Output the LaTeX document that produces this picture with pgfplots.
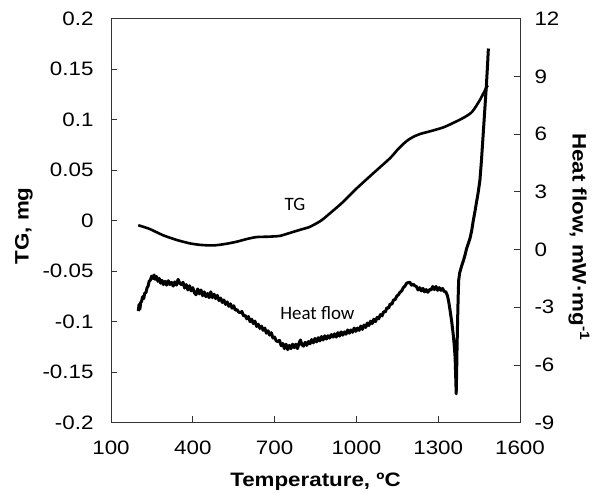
\documentclass[border=0pt]{standalone}
\usepackage{fontspec}
\setmainfont{Liberation Sans}[FakeStretch=1.15]
\newfontfamily\calib{Carlito}
\usepackage{pgfplots}
\pgfplotsset{compat=1.18}

\pgfplotstableread{
x y
200 -0.0045
240 -0.008
292 -0.0145
340 -0.019
390 -0.0225
430 -0.024
475 -0.0245
520 -0.023
561 -0.0208
600 -0.018
634 -0.0162
680 -0.0158
720 -0.0150
763 -0.0115
800 -0.0085
830 -0.006
870 0.000
903 0.0073
952 0.0188
1001 0.032
1062 0.047
1123 0.0618
1150 0.0700
1172 0.0760
1190 0.0800
1210 0.0832
1235 0.0860
1270 0.0885
1320 0.0925
1368 0.0985
1400 0.1030
1425 0.1080
1453 0.1195
1475 0.131
1482 0.134
}\tgdata

\pgfplotstableread{
x y
200 -3.2
203 -2.85
206 -3.1
209 -2.75
212 -2.7
216 -2.45
220 -2.55
224 -2.25
228 -2.25
232 -2.0
236 -1.9
240 -1.65
244 -1.6
249 -1.38
254 -1.5
258 -1.32
262 -1.55
267 -1.4
272 -1.65
277 -1.5
282 -1.75
287 -1.6
292 -1.82
298 -1.65
304 -1.85
310 -1.62
316 -1.82
322 -1.7
328 -1.9
334 -1.68
340 -1.85
346 -1.55
352 -1.75
358 -1.82
364 -1.7
370 -2.0
376 -1.82
382 -2.1
388 -1.88
394 -2.15
400 -1.98
406 -2.25
412 -2.35
418 -2.05
424 -2.3
430 -2.1
436 -2.4
442 -2.2
448 -2.45
454 -2.28
460 -2.5
466 -2.2
472 -2.5
478 -2.32
484 -2.55
490 -2.38
496 -2.65
502 -2.52
508 -2.75
514 -2.62
520 -2.85
526 -2.72
532 -2.95
538 -2.82
544 -3.05
550 -2.92
556 -3.15
562 -3.12
568 -3.25
574 -3.28
580 -3.22
586 -3.45
592 -3.42
598 -3.6
604 -3.48
610 -3.75
616 -3.62
622 -3.85
628 -3.72
634 -4.0
640 -3.88
646 -4.1
652 -3.98
658 -4.2
664 -4.08
670 -4.35
676 -4.22
682 -4.45
688 -4.32
694 -4.6
700 -4.55
706 -4.75
712 -4.78
718 -4.72
724 -5.0
730 -4.88
736 -5.15
742 -4.92
748 -5.2
754 -4.98
760 -5.15
766 -4.92
772 -5.1
778 -4.92
784 -5.15
790 -4.85
795 -4.7
800 -4.95
806 -5.02
812 -4.82
818 -4.98
824 -4.78
830 -4.9
836 -4.68
842 -4.85
848 -4.62
854 -4.8
860 -4.58
866 -4.75
872 -4.52
878 -4.7
884 -4.48
890 -4.65
896 -4.48
902 -4.6
908 -4.42
914 -4.55
920 -4.38
926 -4.55
932 -4.32
938 -4.5
944 -4.28
950 -4.45
956 -4.28
962 -4.4
968 -4.18
974 -4.35
980 -4.18
986 -4.3
992 -4.08
998 -4.25
1004 -4.08
1010 -4.2
1016 -3.98
1022 -4.15
1028 -3.92
1034 -4.05
1040 -3.82
1046 -3.95
1052 -3.72
1058 -3.85
1064 -3.62
1070 -3.75
1076 -3.52
1082 -3.6
1088 -3.38
1094 -3.45
1100 -3.22
1106 -3.25
1112 -3.02
1118 -3.05
1124 -2.82
1130 -2.85
1136 -2.62
1142 -2.6
1148 -2.42
1154 -2.35
1160 -2.22
1166 -2.15
1172 -1.98
1178 -1.9
1184 -1.75
1190 -1.72
1196 -1.7
1202 -1.85
1208 -1.8
1214 -1.88
1220 -1.92
1226 -2.1
1232 -1.98
1238 -2.15
1244 -2.02
1250 -2.2
1256 -2.08
1262 -2.22
1268 -2.08
1274 -2.1
1280 -1.92
1286 -2.08
1292 -1.92
1298 -2.12
1304 -1.98
1310 -2.12
1316 -2.02
1322 -2.18
1328 -2.2
1334 -2.4
1339 -2.75
1344 -3.2
1350 -3.8
1355 -4.4
1359 -5.0
1362 -5.6
1364 -6.5
1366 -7.5
1367.5 -6.5
1369 -5.2
1371 -3.8
1373 -2.6
1375 -1.6
1379 -1.2
1385 -0.9
1393 -0.55
1399 -0.25
1404 0.05
1410 0.3
1417 0.6
1423 1.0
1428 1.45
1435 2.0
1441 2.5
1447 3.0
1453 3.6
1459 4.7
1465 6.0
1471 7.3
1477 8.6
1481 9.6
1484 10.45
}\hfdata

\begin{document}
\begin{tikzpicture}
\pgfplotsset{
  common/.style={
    at={(0,0)}, anchor=south west,
    scale only axis, width=409bp, height=404bp,
    xmin=100, xmax=1600,
    tick align=inside,
    major tick length=6.5bp,
    axis line style={black!80, line width=0.9bp},
    every tick/.style={black!80, line width=0.9bp},
    ticklabel style={font=\fontsize{19.5}{22}\selectfont},
    label style={font=\bfseries\fontsize{19.5}{22}\selectfont},
  }
}
\begin{axis}[
  common,
  ymin=-0.2, ymax=0.2,
  xtick={100,400,700,1000,1300,1600},
  xticklabels={100,400,700,1000,1300,1600},
  ytick={-0.2,-0.15,-0.1,-0.05,0,0.05,0.1,0.15,0.2},
  yticklabels={-0.2,-0.15,-0.1,-0.05,0,0.05,0.1,0.15,0.2},
  xtick pos=bottom, ytick pos=left,
  xticklabel style={yshift=-15bp},
  yticklabel style={xshift=-14bp},
  xlabel={Temperature, ºC},
  ylabel={TG, mg},
  xlabel style={at={(axis description cs:0.5,-0.147)}, anchor=center},
  ylabel style={at={(axis description cs:-0.213,0.487)}, anchor=center},
]
\addplot[black, line width=2.6bp, line join=round, smooth, tension=0.4] table {\tgdata};
\node[font=\calib\fontsize{19}{22}\selectfont] at (axis cs:775,0.0165) {TG};
\node[font=\calib\fontsize{19}{22}\selectfont] at (axis cs:857,-0.0917) {Heat flow};
\end{axis}
\begin{axis}[
  common,
  ymin=-9, ymax=12,
  axis x line=none,
  axis y line*=right,
  ytick={-9,-6,-3,0,3,6,9,12},
  yticklabels={-9,-6,-3,0,3,6,9,12},
  ytick pos=right,
  yticklabel style={xshift=11bp},
  ylabel={Heat flow, mW·mg\textsuperscript{-1}},
  ylabel style={at={(axis description cs:1.144,0.46)}, anchor=center, rotate=180},
]
\addplot[black, line width=3.0bp, line join=round] table {\hfdata};
\end{axis}
\pgfresetboundingbox
\useasboundingbox (-111bp,-70.3bp) rectangle (491bp,422.7bp);
\end{tikzpicture}
\end{document}
